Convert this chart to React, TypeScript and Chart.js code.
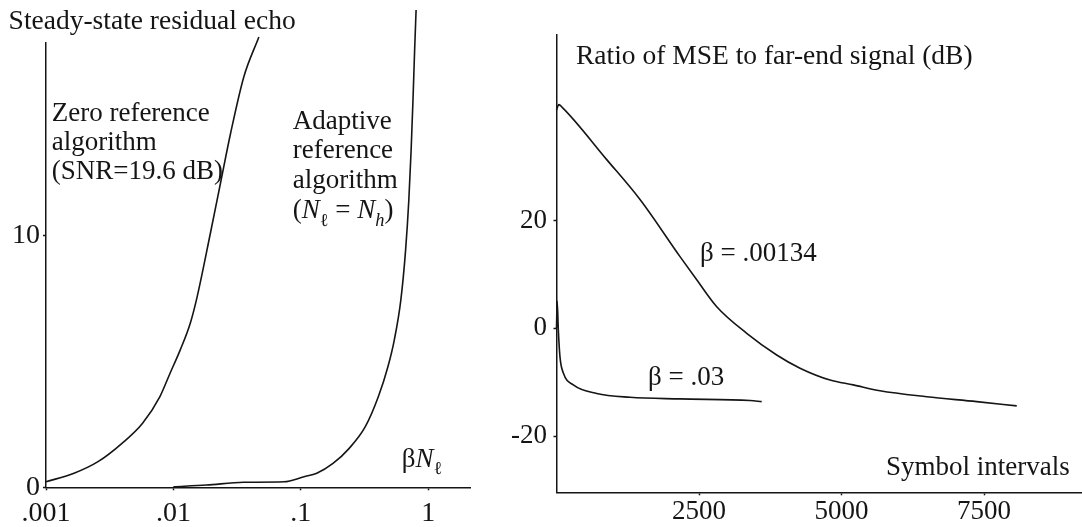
import React, { useEffect, useRef } from 'react';
import { Chart, registerables } from 'chart.js';

Chart.register(...registerables);

const FONT = "'Liberation Serif', 'Times New Roman', serif";
const INK = '#151515';

// ---------- Left panel: steady-state residual echo vs beta*N_l (log x) ----------
const zeroRefX = [0.001, 0.00166, 0.00256, 0.00395, 0.00573, 0.00782, 0.0094, 0.0113, 0.01355, 0.01528, 0.0195, 0.0234, 0.0281, 0.0357, 0.0469];
const zeroRefY = [0.22, 0.56, 1.02, 1.75, 2.55, 3.6, 4.53, 5.46, 6.52, 7.53, 10.1, 12.09, 14.08, 16.33, 17.92];

const adaptiveX = [0.01, 0.0182, 0.0356, 0.0738, 0.106, 0.1336, 0.179, 0.24, 0.321, 0.406, 0.483, 0.542, 0.61, 0.665, 0.705, 0.735, 0.76, 0.783, 0.804];
const adaptiveY = [0.02, 0.09, 0.2, 0.22, 0.42, 0.56, 0.95, 1.55, 2.41, 3.6, 4.8, 5.86, 7.45, 9.44, 11.43, 13.42, 15.41, 17.4, 18.99];

const leftXTicks = [0.001, 0.01, 0.1, 1];
const leftXTickLabels = ['.001', '.01', '.1', '1'];
const leftYTicks = [0, 10];
const leftYTickLabels = ['0', '10'];

// ---------- Right panel: ratio of MSE to far-end signal (dB) vs symbol intervals ----------
const slowX = [0, 40, 100, 881, 1465, 2167, 2460, 2811, 3337, 3863, 4272, 4798, 5207, 5675, 6495, 7372, 8074];
const slowY = [40.5, 41.5, 41.0, 31.3, 23.9, 13.3, 9.0, 4.0, -0.93, -4.95, -7.4, -9.6, -10.5, -11.6, -12.7, -13.6, -14.4];

const fastX = [0, 12, 32, 61, 120, 295, 705, 1289, 2167, 3395, 3600];
const fastY = [0, 5, -0.3, -5.3, -8.3, -10.5, -12.1, -12.8, -13.1, -13.4, -13.6];

const rightXTicks = [2500, 5000, 7500];
const rightXTickLabels = ['2500', '5000', '7500'];
const rightYTicks = [-20, 0, 20];
const rightYTickLabels = ['-20', '0', '20'];

type Seg = { t: string; italic?: boolean; sub?: boolean };
type Annot = { x: number; y: number; segs: Seg[]; size?: number };

const leftAnnots: Annot[] = [
  { x: 8.6, y: 29, segs: [{ t: 'Steady-state residual echo' }], size: 27.5 },
  { x: 51.7, y: 121, segs: [{ t: 'Zero reference' }] },
  { x: 51.7, y: 150, segs: [{ t: 'algorithm' }] },
  { x: 51.7, y: 179, segs: [{ t: '(SNR=19.6 dB)' }] },
  { x: 292.7, y: 129, segs: [{ t: 'Adaptive' }] },
  { x: 292.7, y: 158, segs: [{ t: 'reference' }] },
  { x: 292.7, y: 187.7, segs: [{ t: 'algorithm' }] },
  {
    x: 292.7, y: 218,
    segs: [{ t: '(' }, { t: 'N', italic: true }, { t: 'ℓ', sub: true }, { t: ' = ' }, { t: 'N', italic: true }, { t: 'h', italic: true, sub: true }, { t: ')' }],
  },
  { x: 401.7, y: 466.7, segs: [{ t: 'β' }, { t: 'N', italic: true }, { t: 'ℓ', sub: true }] },
];

const rightAnnots: Annot[] = [
  { x: 76, y: 64, segs: [{ t: 'Ratio of MSE to far-end signal (dB)' }], size: 27.5 },
  { x: 200, y: 261, segs: [{ t: 'β = .00134' }] },
  { x: 148, y: 385, segs: [{ t: 'β = .03' }] },
  { x: 386, y: 475, segs: [{ t: 'Symbol intervals' }] },
];

function drawRich(ctx: CanvasRenderingContext2D, x: number, y: number, segs: Seg[], size: number) {
  let cx = x;
  for (const s of segs) {
    const fs = s.sub ? size * 0.68 : size;
    ctx.font = `${s.italic ? 'italic ' : ''}${fs}px ${FONT}`;
    const dy = s.sub ? size * 0.28 : 0;
    ctx.fillText(s.t, cx, y + dy);
    cx += ctx.measureText(s.t).width;
  }
}

function textPlugin(items: Annot[], size: number) {
  return {
    id: 'annotText',
    afterDraw(chart: any) {
      const ctx: CanvasRenderingContext2D = chart.ctx;
      ctx.save();
      ctx.fillStyle = INK;
      ctx.textBaseline = 'alphabetic';
      ctx.textAlign = 'left';
      for (const it of items) drawRich(ctx, it.x, it.y, it.segs, it.size ?? size);
      ctx.restore();
    },
  };
}

function lineDs(xs: number[], ys: number[]) {
  return {
    data: xs.map((x, i) => ({ x, y: ys[i] })),
    borderColor: INK,
    borderWidth: 1.6,
    pointRadius: 0,
    fill: false,
    cubicInterpolationMode: 'monotone' as const,
    clip: false as any,
  };
}

function axisCommon(tickSize: number, padding: number, ticks: number[], labels: string[]) {
  return {
    grid: { drawOnChartArea: false, drawTicks: true, tickLength: 3, tickWidth: 1.5, tickColor: INK },
    border: { display: true, color: INK, width: 1.5 },
    afterBuildTicks: (s: any) => {
      s.ticks = ticks.map((v) => ({ value: v }));
    },
    ticks: {
      autoSkip: false,
      maxRotation: 0,
      minRotation: 0,
      padding,
      color: INK,
      font: { family: FONT, size: tickSize },
      callback: (v: any) => {
        const i = ticks.findIndex((t) => Math.abs(t - Number(v)) < 1e-9);
        return i >= 0 ? labels[i] : '';
      },
    },
  };
}

export default function App() {
  const leftRef = useRef<HTMLCanvasElement | null>(null);
  const rightRef = useRef<HTMLCanvasElement | null>(null);

  useEffect(() => {
    const left = new Chart(leftRef.current as HTMLCanvasElement, {
      type: 'line',
      data: { datasets: [lineDs(zeroRefX, zeroRefY), lineDs(adaptiveX, adaptiveY)] as any },
      options: {
        animation: false,
        responsive: false,
        events: [],
        layout: { padding: { top: 43, right: 30, left: 0, bottom: 0 } },
        plugins: { legend: { display: false }, tooltip: { enabled: false }, title: { display: false } },
        scales: {
          x: {
            type: 'logarithmic',
            min: 0.001,
            max: 2.13,
            afterFit: (s: any) => {
              s.height = 39.7;
            },
            ...axisCommon(28, 7, leftXTicks, leftXTickLabels),
          } as any,
          y: {
            type: 'linear',
            min: 0,
            max: 17.68,
            afterFit: (s: any) => {
              s.width = 46;
            },
            ...axisCommon(28, 3, leftYTicks, leftYTickLabels),
          } as any,
        },
      },
      plugins: [textPlugin(leftAnnots, 27) as any],
    });

    const right = new Chart(rightRef.current as HTMLCanvasElement, {
      type: 'line',
      data: { datasets: [lineDs(slowX, slowY), lineDs(fastX, fastY)] as any },
      options: {
        animation: false,
        responsive: false,
        events: [],
        layout: { padding: { top: 34.6, right: 0, left: 0, bottom: 0 } },
        plugins: { legend: { display: false }, tooltip: { enabled: false }, title: { display: false } },
        scales: {
          x: {
            type: 'linear',
            min: 0,
            max: 9219,
            afterFit: (s: any) => {
              s.height = 34.7;
            },
            ...axisCommon(27, 0, rightXTicks, rightXTickLabels),
          } as any,
          y: {
            type: 'linear',
            min: -30.43,
            max: 54.5,
            afterFit: (s: any) => {
              s.width = 56.5;
            },
            ...axisCommon(27, 6.5, rightYTicks, rightYTickLabels),
          } as any,
        },
      },
      plugins: [textPlugin(rightAnnots, 27) as any],
    });

    return () => {
      left.destroy();
      right.destroy();
    };
  }, []);

  return (
    <div style={{ position: 'absolute', left: 0, top: 0, width: 1082, height: 527, background: '#fff', overflow: 'hidden' }}>
      <canvas ref={leftRef} width={500} height={527} style={{ position: 'absolute', left: 0, top: 0 }} />
      <canvas ref={rightRef} width={582} height={527} style={{ position: 'absolute', left: 500, top: 0 }} />
    </div>
  );
}
